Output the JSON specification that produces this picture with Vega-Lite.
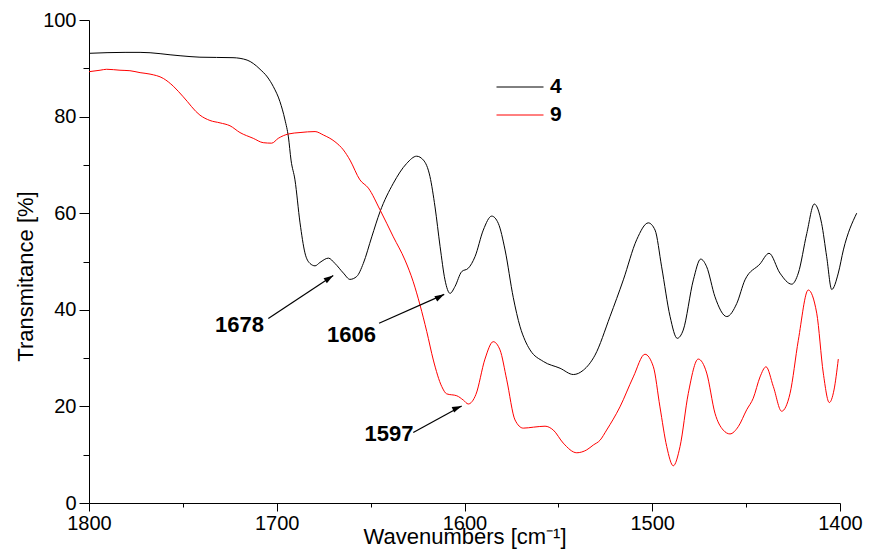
{
  "$schema": "https://vega.github.io/schema/vega-lite/v6.json",
  "width": 751,
  "height": 483,
  "autosize": {"type": "none"},
  "padding": {"left": 89, "top": 20, "right": 29, "bottom": 52},
  "background": "white",
  "config": {
    "view": {"stroke": null},
    "font": "Liberation Sans",
    "axis": {
      "grid": false,
      "domainColor": "black",
      "domainWidth": 1,
      "tickColor": "black",
      "tickWidth": 1,
      "labelColor": "black",
      "labelFont": "Liberation Sans",
      "labelFontSize": 20,
      "titleFont": "Liberation Sans",
      "titleFontSize": 22,
      "titleFontWeight": "normal",
      "titleColor": "black"
    }
  },
  "datasets": {
    "spectra": [
      {"wn": 1800.0, "t": 93.1, "sample": "4"},
      {"wn": 1780.8, "t": 93.3, "sample": "4"},
      {"wn": 1772.8, "t": 93.3, "sample": "4"},
      {"wn": 1751.5, "t": 92.6, "sample": "4"},
      {"wn": 1740.9, "t": 92.3, "sample": "4"},
      {"wn": 1723.3, "t": 92.2, "sample": "4"},
      {"wn": 1715.8, "t": 91.7, "sample": "4"},
      {"wn": 1712.5, "t": 91.0, "sample": "4"},
      {"wn": 1708.9, "t": 89.8, "sample": "4"},
      {"wn": 1705.0, "t": 88.2, "sample": "4"},
      {"wn": 1701.8, "t": 86.2, "sample": "4"},
      {"wn": 1698.3, "t": 83.1, "sample": "4"},
      {"wn": 1695.6, "t": 79.3, "sample": "4"},
      {"wn": 1693.8, "t": 75.8, "sample": "4"},
      {"wn": 1692.4, "t": 71.0, "sample": "4"},
      {"wn": 1690.3, "t": 66.9, "sample": "4"},
      {"wn": 1687.6, "t": 58.0, "sample": "4"},
      {"wn": 1685.0, "t": 51.8, "sample": "4"},
      {"wn": 1682.3, "t": 49.6, "sample": "4"},
      {"wn": 1679.6, "t": 49.1, "sample": "4"},
      {"wn": 1677.0, "t": 49.8, "sample": "4"},
      {"wn": 1672.5, "t": 50.7, "sample": "4"},
      {"wn": 1669.0, "t": 49.6, "sample": "4"},
      {"wn": 1664.5, "t": 47.6, "sample": "4"},
      {"wn": 1661.0, "t": 46.3, "sample": "4"},
      {"wn": 1657.4, "t": 46.9, "sample": "4"},
      {"wn": 1653.9, "t": 49.6, "sample": "4"},
      {"wn": 1649.4, "t": 55.1, "sample": "4"},
      {"wn": 1645.0, "t": 60.3, "sample": "4"},
      {"wn": 1637.9, "t": 66.2, "sample": "4"},
      {"wn": 1630.8, "t": 70.3, "sample": "4"},
      {"wn": 1625.5, "t": 71.8, "sample": "4"},
      {"wn": 1621.9, "t": 71.0, "sample": "4"},
      {"wn": 1618.4, "t": 67.6, "sample": "4"},
      {"wn": 1615.7, "t": 61.3, "sample": "4"},
      {"wn": 1613.0, "t": 53.1, "sample": "4"},
      {"wn": 1610.4, "t": 46.2, "sample": "4"},
      {"wn": 1607.7, "t": 43.4, "sample": "4"},
      {"wn": 1605.1, "t": 44.8, "sample": "4"},
      {"wn": 1601.5, "t": 47.9, "sample": "4"},
      {"wn": 1598.0, "t": 48.6, "sample": "4"},
      {"wn": 1594.4, "t": 51.0, "sample": "4"},
      {"wn": 1590.0, "t": 56.5, "sample": "4"},
      {"wn": 1585.5, "t": 59.4, "sample": "4"},
      {"wn": 1582.0, "t": 57.9, "sample": "4"},
      {"wn": 1578.4, "t": 52.4, "sample": "4"},
      {"wn": 1574.0, "t": 42.5, "sample": "4"},
      {"wn": 1570.4, "t": 36.5, "sample": "4"},
      {"wn": 1567.8, "t": 33.7, "sample": "4"},
      {"wn": 1565.1, "t": 31.7, "sample": "4"},
      {"wn": 1558.0, "t": 29.3, "sample": "4"},
      {"wn": 1549.1, "t": 27.9, "sample": "4"},
      {"wn": 1542.0, "t": 26.6, "sample": "4"},
      {"wn": 1536.7, "t": 27.5, "sample": "4"},
      {"wn": 1530.5, "t": 30.6, "sample": "4"},
      {"wn": 1522.5, "t": 38.6, "sample": "4"},
      {"wn": 1515.4, "t": 46.2, "sample": "4"},
      {"wn": 1508.3, "t": 54.5, "sample": "4"},
      {"wn": 1502.1, "t": 58.0, "sample": "4"},
      {"wn": 1498.5, "t": 56.5, "sample": "4"},
      {"wn": 1495.0, "t": 48.9, "sample": "4"},
      {"wn": 1490.5, "t": 38.6, "sample": "4"},
      {"wn": 1486.7, "t": 34.1, "sample": "4"},
      {"wn": 1483.5, "t": 35.8, "sample": "4"},
      {"wn": 1478.1, "t": 46.2, "sample": "4"},
      {"wn": 1474.2, "t": 50.5, "sample": "4"},
      {"wn": 1471.0, "t": 48.9, "sample": "4"},
      {"wn": 1466.6, "t": 42.7, "sample": "4"},
      {"wn": 1460.3, "t": 38.6, "sample": "4"},
      {"wn": 1455.0, "t": 41.3, "sample": "4"},
      {"wn": 1450.6, "t": 46.2, "sample": "4"},
      {"wn": 1442.6, "t": 49.5, "sample": "4"},
      {"wn": 1437.8, "t": 51.7, "sample": "4"},
      {"wn": 1432.0, "t": 47.6, "sample": "4"},
      {"wn": 1425.7, "t": 45.3, "sample": "4"},
      {"wn": 1422.2, "t": 47.6, "sample": "4"},
      {"wn": 1417.7, "t": 55.8, "sample": "4"},
      {"wn": 1413.7, "t": 61.9, "sample": "4"},
      {"wn": 1409.8, "t": 57.9, "sample": "4"},
      {"wn": 1407.1, "t": 51.0, "sample": "4"},
      {"wn": 1404.4, "t": 44.2, "sample": "4"},
      {"wn": 1400.9, "t": 47.6, "sample": "4"},
      {"wn": 1398.2, "t": 52.4, "sample": "4"},
      {"wn": 1391.1, "t": 60.0, "sample": "4"},
      {"wn": 1800.0, "t": 89.3, "sample": "9"},
      {"wn": 1794.1, "t": 89.6, "sample": "9"},
      {"wn": 1790.6, "t": 89.8, "sample": "9"},
      {"wn": 1783.5, "t": 89.6, "sample": "9"},
      {"wn": 1778.2, "t": 89.5, "sample": "9"},
      {"wn": 1772.8, "t": 89.1, "sample": "9"},
      {"wn": 1767.5, "t": 88.8, "sample": "9"},
      {"wn": 1760.4, "t": 87.9, "sample": "9"},
      {"wn": 1755.1, "t": 86.3, "sample": "9"},
      {"wn": 1749.8, "t": 84.1, "sample": "9"},
      {"wn": 1740.9, "t": 80.3, "sample": "9"},
      {"wn": 1735.6, "t": 79.2, "sample": "9"},
      {"wn": 1730.2, "t": 78.7, "sample": "9"},
      {"wn": 1724.9, "t": 78.1, "sample": "9"},
      {"wn": 1719.6, "t": 76.7, "sample": "9"},
      {"wn": 1712.5, "t": 75.5, "sample": "9"},
      {"wn": 1707.2, "t": 74.6, "sample": "9"},
      {"wn": 1702.7, "t": 74.5, "sample": "9"},
      {"wn": 1699.2, "t": 75.5, "sample": "9"},
      {"wn": 1693.8, "t": 76.4, "sample": "9"},
      {"wn": 1687.6, "t": 76.7, "sample": "9"},
      {"wn": 1679.6, "t": 76.9, "sample": "9"},
      {"wn": 1675.2, "t": 76.2, "sample": "9"},
      {"wn": 1669.0, "t": 74.8, "sample": "9"},
      {"wn": 1664.5, "t": 73.1, "sample": "9"},
      {"wn": 1661.0, "t": 71.0, "sample": "9"},
      {"wn": 1655.7, "t": 66.9, "sample": "9"},
      {"wn": 1651.2, "t": 65.2, "sample": "9"},
      {"wn": 1645.0, "t": 60.7, "sample": "9"},
      {"wn": 1637.9, "t": 55.1, "sample": "9"},
      {"wn": 1631.7, "t": 50.3, "sample": "9"},
      {"wn": 1627.3, "t": 45.8, "sample": "9"},
      {"wn": 1623.7, "t": 41.0, "sample": "9"},
      {"wn": 1620.1, "t": 35.5, "sample": "9"},
      {"wn": 1616.6, "t": 29.6, "sample": "9"},
      {"wn": 1612.1, "t": 24.1, "sample": "9"},
      {"wn": 1609.5, "t": 22.6, "sample": "9"},
      {"wn": 1604.1, "t": 22.2, "sample": "9"},
      {"wn": 1600.6, "t": 21.3, "sample": "9"},
      {"wn": 1598.0, "t": 20.5, "sample": "9"},
      {"wn": 1593.9, "t": 22.5, "sample": "9"},
      {"wn": 1589.1, "t": 29.8, "sample": "9"},
      {"wn": 1584.7, "t": 33.4, "sample": "9"},
      {"wn": 1581.1, "t": 31.7, "sample": "9"},
      {"wn": 1577.5, "t": 25.5, "sample": "9"},
      {"wn": 1573.1, "t": 17.2, "sample": "9"},
      {"wn": 1568.7, "t": 15.5, "sample": "9"},
      {"wn": 1563.3, "t": 15.7, "sample": "9"},
      {"wn": 1557.1, "t": 15.9, "sample": "9"},
      {"wn": 1552.7, "t": 15.1, "sample": "9"},
      {"wn": 1547.4, "t": 12.4, "sample": "9"},
      {"wn": 1540.2, "t": 10.4, "sample": "9"},
      {"wn": 1534.9, "t": 11.0, "sample": "9"},
      {"wn": 1531.4, "t": 12.0, "sample": "9"},
      {"wn": 1527.8, "t": 13.0, "sample": "9"},
      {"wn": 1524.3, "t": 15.1, "sample": "9"},
      {"wn": 1517.2, "t": 19.9, "sample": "9"},
      {"wn": 1510.1, "t": 26.1, "sample": "9"},
      {"wn": 1503.9, "t": 30.8, "sample": "9"},
      {"wn": 1499.4, "t": 28.2, "sample": "9"},
      {"wn": 1495.9, "t": 19.9, "sample": "9"},
      {"wn": 1492.3, "t": 11.7, "sample": "9"},
      {"wn": 1488.8, "t": 7.7, "sample": "9"},
      {"wn": 1485.2, "t": 11.7, "sample": "9"},
      {"wn": 1480.8, "t": 22.7, "sample": "9"},
      {"wn": 1475.5, "t": 29.8, "sample": "9"},
      {"wn": 1471.0, "t": 26.9, "sample": "9"},
      {"wn": 1466.6, "t": 18.6, "sample": "9"},
      {"wn": 1462.2, "t": 15.1, "sample": "9"},
      {"wn": 1458.6, "t": 14.3, "sample": "9"},
      {"wn": 1454.2, "t": 15.8, "sample": "9"},
      {"wn": 1449.7, "t": 19.3, "sample": "9"},
      {"wn": 1446.2, "t": 21.7, "sample": "9"},
      {"wn": 1442.6, "t": 26.1, "sample": "9"},
      {"wn": 1439.4, "t": 28.2, "sample": "9"},
      {"wn": 1435.5, "t": 24.1, "sample": "9"},
      {"wn": 1431.1, "t": 19.0, "sample": "9"},
      {"wn": 1426.6, "t": 22.7, "sample": "9"},
      {"wn": 1422.2, "t": 33.7, "sample": "9"},
      {"wn": 1416.9, "t": 44.1, "sample": "9"},
      {"wn": 1412.4, "t": 39.3, "sample": "9"},
      {"wn": 1408.9, "t": 26.9, "sample": "9"},
      {"wn": 1405.7, "t": 20.8, "sample": "9"},
      {"wn": 1403.2, "t": 23.4, "sample": "9"},
      {"wn": 1400.9, "t": 29.8, "sample": "9"}
    ],
    "peaks": [
      {"label": "1678", "textWn": 1719.8, "textT": 37.1, "fromWn": 1704.5, "fromT": 38.2, "toWn": 1669.9, "toT": 47.1},
      {"label": "1606", "textWn": 1660.2, "textT": 34.9, "fromWn": 1645.5, "fromT": 37.2, "toWn": 1610.8, "toT": 43.2},
      {"label": "1597", "textWn": 1640.2, "textT": 14.4, "fromWn": 1627.3, "fromT": 14.6, "toWn": 1601.5, "toT": 20.1}
    ]
  },
  "layer": [
    {
      "data": {"name": "spectra"},
      "mark": {"type": "line", "strokeWidth": 1, "interpolate": "monotone", "clip": false},
      "encoding": {
        "x": {
          "field": "wn",
          "type": "quantitative",
          "scale": {"domain": [1400, 1800], "reverse": true, "nice": false, "zero": false},
          "axis": {
            "title": "Wavenumbers [cm⁻¹]",
            "values": [1800, 1750, 1700, 1650, 1600, 1550, 1500, 1450, 1400],
            "format": "d",
            "labelExpr": "datum.value % 100 === 0 ? datum.label : ''",
            "labelFlush": false,
            "labelPadding": 2,
            "tickSize": {"condition": {"test": "datum.value % 100 === 0", "value": 8}, "value": 4},
            "titleY": 40,
            "titleBaseline": "alphabetic"
          }
        },
        "y": {
          "field": "t",
          "type": "quantitative",
          "scale": {"domain": [0, 100], "nice": false},
          "axis": {
            "title": "Transmitance [%]",
            "values": [0, 10, 20, 30, 40, 50, 60, 70, 80, 90, 100],
            "format": "d",
            "labelExpr": "datum.value % 20 === 0 ? datum.label : ''",
            "labelPadding": 3,
            "tickSize": {"condition": {"test": "datum.value % 20 === 0", "value": 10}, "value": 6},
            "titleX": -64,
            "titleY": 256,
            "titleBaseline": "middle",
            "titleAlign": "center"
          }
        },
        "color": {
          "field": "sample",
          "type": "nominal",
          "scale": {"domain": ["4", "9"], "range": ["#000000", "#ff0000"]},
          "legend": {
            "title": null,
            "orient": "none",
            "legendX": 407,
            "legendY": 53,
            "padding": 0,
            "rowPadding": 0,
            "clipHeight": 28,
            "symbolType": "stroke",
            "symbolSize": 2209,
            "symbolStrokeWidth": 1,
            "labelFont": "Liberation Sans",
            "labelFontSize": 21,
            "labelFontWeight": "bold",
            "labelColor": "black",
            "labelOffset": 6
          }
        },
        "order": {"field": "wn", "sort": "descending"}
      }
    },
    {
      "data": {"name": "peaks"},
      "mark": {"type": "rule", "color": "black", "strokeWidth": 1.2},
      "encoding": {
        "x": {"field": "fromWn", "type": "quantitative"},
        "y": {"field": "fromT", "type": "quantitative"},
        "x2": {"field": "toWn"},
        "y2": {"field": "toT"}
      }
    },
    {
      "data": {"name": "peaks"},
      "mark": {"type": "point", "shape": "M0,0L1,3.2L-1,3.2Z", "filled": true, "color": "black", "opacity": 1, "size": 36},
      "encoding": {
        "x": {"field": "toWn", "type": "quantitative"},
        "y": {"field": "toT", "type": "quantitative"},
        "angle": {
          "field": "label",
          "type": "nominal",
          "scale": {"domain": ["1678", "1606", "1597"], "range": [56.8, 66.1, 60.8]},
          "legend": null
        }
      }
    },
    {
      "data": {"name": "peaks"},
      "mark": {"type": "text", "font": "Liberation Sans", "fontSize": 22, "fontWeight": "bold", "color": "black", "align": "center", "baseline": "middle", "dy": 1},
      "encoding": {
        "x": {"field": "textWn", "type": "quantitative"},
        "y": {"field": "textT", "type": "quantitative"},
        "text": {"field": "label"}
      }
    }
  ]
}
